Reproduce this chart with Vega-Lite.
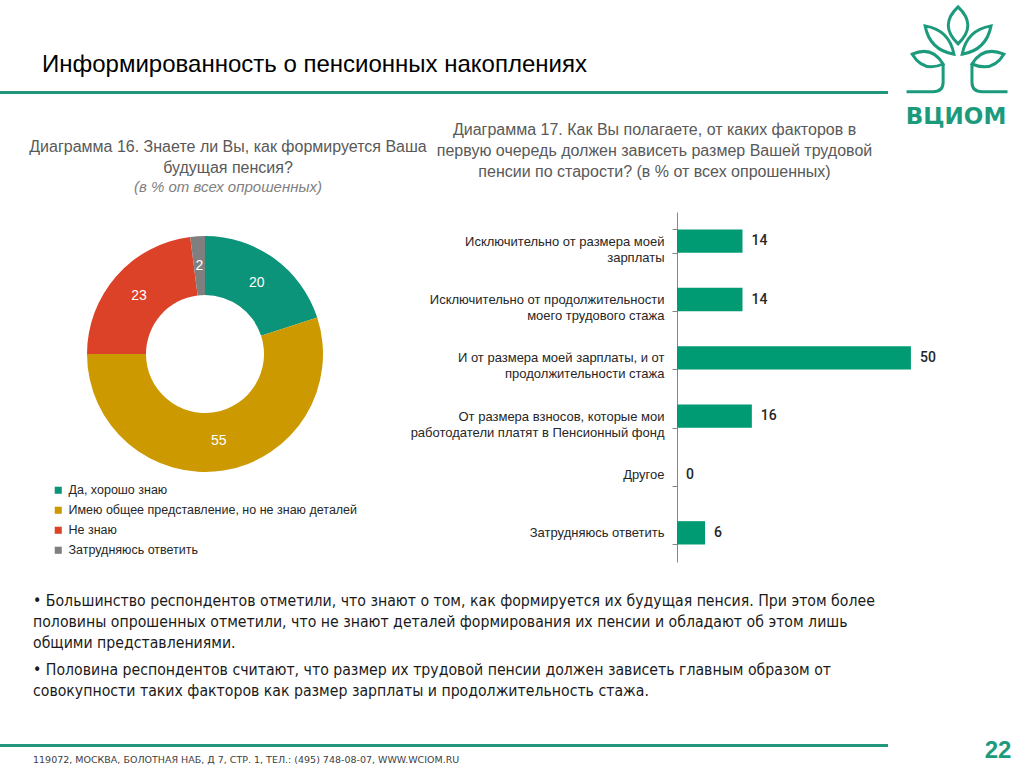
{
  "$schema": "https://vega.github.io/schema/vega-lite/v6.json",
  "padding": 0,
  "background": "white",
  "columns": 4,
  "align": "each",
  "bounds": "flush",
  "spacing": 0,
  "config": {"view": {"stroke": null}, "concat": {"spacing": 0}, "font": "Liberation Sans"},
  "concat": [
    {"width": 410, "height": 88, "data": {"values": [{}]}, "mark": {"type": "text", "text": ""}, "encoding": {}},
    {"width": 267, "height": 88, "data": {"values": [{}]}, "mark": {"type": "text", "text": ""}, "encoding": {}},
    {"width": 211, "height": 88, "data": {"values": [{}]}, "mark": {"type": "text", "text": ""}, "encoding": {}},
    {
      "width": 136, "height": 88,
      "data": {"values": [{"logo": "ВЦИОМ"}]},
      "title": {"text": "ВЦИОМ", "orient": "bottom", "anchor": "middle", "frame": "group", "offset": 8, "font": "DejaVu Sans", "fontSize": 23, "fontWeight": "bold", "color": "#1c9a7c"},
      "mark": {"type": "point", "shape": "M0.04,-0.06 Q-0.34,-0.42 0.04,-0.78 Q0.42,-0.42 0.04,-0.06 Z M-0.04,0.14 Q-0.13,-0.33 -0.6,-0.41 Q-0.51,0.06 -0.04,0.14 Z M0.12,0.14 Q0.21,-0.33 0.68,-0.41 Q0.59,0.06 0.12,0.14 Z M-0.25,0.33 Q-0.47,-0.03 -0.85,0.14 Q-0.63,0.5 -0.25,0.33 Z M0.31,0.33 Q0.53,-0.03 0.93,0.14 Q0.71,0.5 0.31,0.33 Z M-0.25,0.33 L-0.25,0.68 Q-0.25,0.87 -0.45,0.87 L-0.96,0.87 M0.31,0.33 L0.31,0.68 Q0.31,0.87 0.51,0.87 L1.0,0.87", "size": 10609, "filled": false, "stroke": "#1c9a7c", "strokeWidth": 3, "opacity": 1},
      "encoding": {}
    },

    {
      "width": 410, "height": 3,
      "view": {"fill": "#22977c", "stroke": null},
      "data": {"values": [{}]}, "mark": {"type": "text", "text": ""}, "encoding": {},
      "title": {"text": "Информированность о пенсионных накоплениях", "orient": "top", "anchor": "start", "frame": "group", "dx": 42, "offset": 10, "font": "Liberation Sans", "fontSize": 24, "fontWeight": "normal", "color": "#000000"}
    },
    {"width": 267, "height": 3, "view": {"fill": "#22977c", "stroke": null}, "data": {"values": [{}]}, "mark": {"type": "text", "text": ""}, "encoding": {}},
    {"width": 211, "height": 3, "view": {"fill": "#22977c", "stroke": null}, "data": {"values": [{}]}, "mark": {"type": "text", "text": ""}, "encoding": {}},
    {"width": 136, "height": 3, "data": {"values": [{}]}, "mark": {"type": "text", "text": ""}, "encoding": {}},

    {"width": 410, "height": 118, "data": {"values": [{}]}, "mark": {"type": "text", "text": ""}, "encoding": {}},
    {"width": 267, "height": 118, "data": {"values": [{}]}, "mark": {"type": "text", "text": ""}, "encoding": {}},
    {"width": 211, "height": 118, "data": {"values": [{}]}, "mark": {"type": "text", "text": ""}, "encoding": {}},
    {"width": 136, "height": 118, "data": {"values": [{}]}, "mark": {"type": "text", "text": ""}, "encoding": {}},

    {
      "width": 410, "height": 284,
      "data": {"values": [
        {"cat": "Да, хорошо знаю", "value": 20, "order": 1},
        {"cat": "Имею общее представление, но не знаю деталей", "value": 55, "order": 2},
        {"cat": "Не знаю", "value": 23, "order": 3},
        {"cat": "Затрудняюсь ответить", "value": 2, "order": 4}
      ]},
      "title": {"text": ["Диаграмма 16. Знаете ли Вы, как формируется Ваша", "будущая пенсия?"], "subtitle": "(в % от всех опрошенных)", "orient": "top", "anchor": "middle", "frame": "group", "dx": 23, "offset": 17, "font": "Liberation Sans", "fontSize": 16, "fontWeight": "normal", "color": "#595959", "lineHeight": 21, "subtitleFont": "Liberation Sans", "subtitleFontSize": 15, "subtitleFontStyle": "italic", "subtitleColor": "#7f7f7f", "subtitlePadding": 4, "subtitleLineHeight": 21},
      "encoding": {
        "theta": {"field": "value", "type": "quantitative", "stack": true},
        "order": {"field": "order", "type": "quantitative"}
      },
      "layer": [
        {
          "mark": {"type": "arc", "outerRadius": 118, "innerRadius": 59},
          "encoding": {
            "color": {"field": "cat", "type": "nominal", "sort": null,
              "scale": {"domain": ["Да, хорошо знаю", "Имею общее представление, но не знаю деталей", "Не знаю", "Затрудняюсь ответить"], "range": ["#0b9479", "#cc9900", "#dc4228", "#7f7f7f"]},
              "legend": {"orient": "none", "legendX": 52, "legendY": 481, "title": null, "symbolType": "square", "symbolSize": 50, "symbolStrokeWidth": 0, "labelFont": "Liberation Sans", "labelFontSize": 12.5, "labelColor": "#262626", "rowPadding": 7, "labelOffset": 4, "labelLimit": 400}
            }
          }
        },
        {
          "mark": {"type": "text", "radius": 88, "fontSize": 14, "font": "Liberation Sans"},
          "encoding": {"text": {"field": "value", "type": "quantitative"}, "color": {"value": "#ffffff"}}
        }
      ]
    },
    {"width": 267, "height": 350, "data": {"values": [{}]}, "mark": {"type": "text", "text": ""}, "encoding": {}},
    {
      "width": 211, "height": 350,
      "data": {"values": [
        {"cat": "Исключительно от размера моей|зарплаты", "value": 14},
        {"cat": "Исключительно от продолжительности|моего трудового стажа", "value": 14},
        {"cat": "И от  размера моей зарплаты, и от|продолжительности стажа", "value": 50},
        {"cat": "От размера взносов, которые мои|работодатели платят в Пенсионный фонд", "value": 16},
        {"cat": "Другое", "value": 0},
        {"cat": "Затрудняюсь ответить", "value": 6}
      ]},
      "title": {"text": ["Диаграмма 17. Как Вы полагаете, от каких факторов в", "первую очередь должен зависеть размер Вашей трудовой", "пенсии по старости? (в % от всех опрошенных)"], "orient": "top", "anchor": "middle", "frame": "group", "dx": -128, "offset": 26, "font": "Liberation Sans", "fontSize": 16, "fontWeight": "normal", "color": "#595959", "lineHeight": 21},
      "encoding": {
        "y": {"field": "cat", "type": "nominal", "sort": null, "scale": {"paddingInner": 0.6, "paddingOuter": 0.3},
          "axis": {"title": null, "labelExpr": "split(datum.label, '|')", "labelFont": "Liberation Sans", "labelFontSize": 13, "labelColor": "#262626", "labelLineHeight": 16, "labelLimit": 400, "labelPadding": 8, "tickBand": "extent", "tickSize": 5, "tickColor": "#868686", "domainColor": "#868686", "labelAlign": "right"}},
        "x": {"field": "value", "type": "quantitative", "scale": {"domain": [0, 45.1], "nice": false, "zero": true}, "axis": null}
      },
      "layer": [
        {"mark": {"type": "bar", "color": "#009b72"}},
        {"mark": {"type": "text", "align": "left", "dx": 9, "fontSize": 14, "font": "Roboto", "fontWeight": 500, "color": "#262626"}, "encoding": {"text": {"field": "value", "type": "quantitative"}}}
      ]
    },
    {"width": 136, "height": 350, "data": {"values": [{}]}, "mark": {"type": "text", "text": ""}, "encoding": {}},

    {
      "width": 410, "height": 182,
      "data": {"values": [{}]}, "mark": {"type": "text", "text": ""}, "encoding": {},
      "title": {"text": "119072, МОСКВА, БОЛОТНАЯ НАБ, Д 7, СТР. 1, ТЕЛ.: (495) 748-08-07, WWW.WCIOM.RU", "orient": "bottom", "anchor": "start", "frame": "group", "dx": 33, "offset": 11, "font": "DejaVu Sans", "fontSize": 9.5, "fontWeight": "normal", "color": "#404040"}
    },
    {"width": 267, "height": 182, "data": {"values": [{}]}, "mark": {"type": "text", "text": ""}, "encoding": {}},
    {"width": 211, "height": 182, "data": {"values": [{}]}, "mark": {"type": "text", "text": ""}, "encoding": {}},
    {"width": 136, "height": 182, "data": {"values": [{}]}, "mark": {"type": "text", "text": ""}, "encoding": {}},

    {
      "width": 410, "height": 3,
      "view": {"fill": "#22977c", "stroke": null},
      "data": {"values": [{}]}, "mark": {"type": "text", "text": ""}, "encoding": {},
      "title": {
        "text": ["• Большинство респондентов отметили, что знают о том, как формируется их будущая пенсия. При  этом более", "половины опрошенных отметили, что не знают деталей формирования их пенсии и обладают об этом лишь", "общими представлениями."],
        "subtitle": ["• Половина респондентов считают, что размер их трудовой пенсии должен зависеть главным образом от", "совокупности таких факторов как размер зарплаты и продолжительность стажа."],
        "orient": "top", "anchor": "start", "frame": "group", "dx": 33, "offset": 40,
        "font": "Liberation Sans Narrow, DejaVu Sans Condensed, sans-serif", "fontSize": 15.7, "fontWeight": "normal", "color": "#1a1a1a", "lineHeight": 21,
        "subtitleFont": "Liberation Sans Narrow, DejaVu Sans Condensed, sans-serif", "subtitleFontSize": 15.7, "subtitleColor": "#1a1a1a", "subtitleLineHeight": 21, "subtitlePadding": 11
      }
    },
    {"width": 267, "height": 3, "view": {"fill": "#22977c", "stroke": null}, "data": {"values": [{}]}, "mark": {"type": "text", "text": ""}, "encoding": {}},
    {"width": 211, "height": 3, "view": {"fill": "#22977c", "stroke": null}, "data": {"values": [{}]}, "mark": {"type": "text", "text": ""}, "encoding": {}},
    {"width": 136, "height": 3, "data": {"values": [{}]}, "mark": {"type": "text", "text": ""}, "encoding": {}},

    {"width": 410, "height": 24, "data": {"values": [{}]}, "mark": {"type": "text", "text": ""}, "encoding": {}},
    {"width": 267, "height": 24, "data": {"values": [{}]}, "mark": {"type": "text", "text": ""}, "encoding": {}},
    {"width": 211, "height": 24, "data": {"values": [{}]}, "mark": {"type": "text", "text": ""}, "encoding": {}},
    {"width": 136, "height": 8, "data": {"values": [{"p": "22"}]}, "mark": {"type": "text", "dx": 42, "fontSize": 24, "fontWeight": "bold", "font": "Liberation Sans", "color": "#1c9a7c"}, "encoding": {"text": {"field": "p", "type": "nominal"}}}
  ]
}
